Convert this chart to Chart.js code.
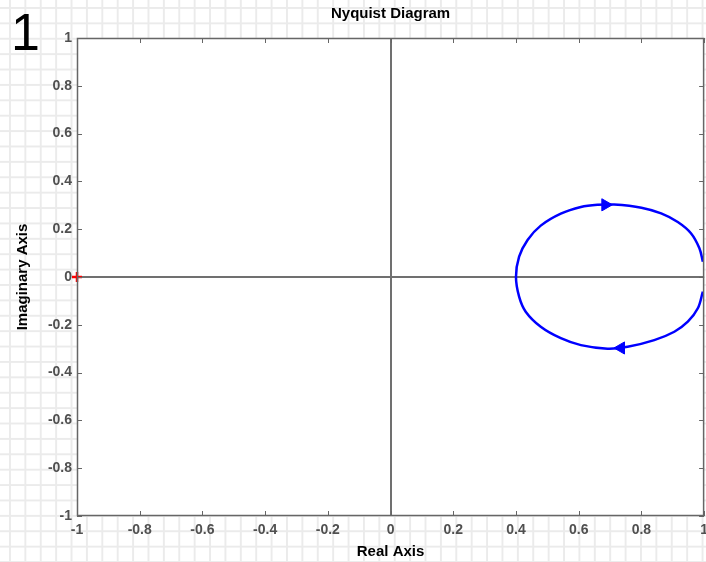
<!DOCTYPE html>
<html>
<head>
<meta charset="utf-8">
<script src="https://cdn.jsdelivr.net/npm/chart.js@4.4.1/dist/chart.umd.min.js"></script>
<style>
  html, body { margin: 0; padding: 0; }
  body {
    width: 706px; height: 562px; overflow: hidden; position: relative;
    background-color: #fff;
    background-image:
      linear-gradient(to right, #ebebeb 2px, transparent 2px),
      linear-gradient(to bottom, #ebebeb 2px, transparent 2px);
    background-size: 15.4px 15.4px;
    background-position: 9px 7px;
  }
  /* a bit wider than the window: the last tick label reserves room on the right */
  #wrap { position: absolute; left: 0; top: 0; width: 714px; height: 562px; }
  #figNum {
    position: absolute; left: 11px; top: 6px;
    font: 52px "Liberation Sans", Arial, sans-serif; line-height: 52px; color: #000;
  }
</style>
</head>
<body>
<div id="figNum">1</div>
<div id="wrap"><canvas id="nyq"></canvas></div>
<script>
// Nyquist curve (real, imaginary)
const lowerRe = [0.996, 0.98, 0.948, 0.905, 0.841, 0.756, 0.692, 0.607, 0.543, 0.479, 0.431, 0.41, 0.40];
const lowerIm = [-0.061, -0.131, -0.187, -0.229, -0.264, -0.292, -0.30, -0.285, -0.256, -0.208, -0.145, -0.082, 0.0];
const upperRe = [0.41, 0.437, 0.479, 0.543, 0.607, 0.66, 0.713, 0.80, 0.863, 0.916, 0.958, 0.985, 0.996];
const upperIm = [0.085, 0.155, 0.215, 0.265, 0.293, 0.302, 0.303, 0.29, 0.266, 0.23, 0.183, 0.12, 0.064];

// direction arrows
const arrowRe = [0.685, 0.735];
const arrowIm = [0.302, -0.297];
const arrowRot = [90, -90];

// critical point
const critRe = [-1];
const critIm = [0];

const axisMin = -1, axisMax = 1, tickStep = 0.2;

const curve = [];
lowerRe.forEach((x, i) => curve.push({ x: x, y: lowerIm[i] }));
upperRe.forEach((x, i) => curve.push({ x: x, y: upperIm[i] }));

const fontFam = '"Liberation Sans", Arial, sans-serif';

// white axes box + inside tick marks + frame
const boxPlugin = {
  id: 'box',
  beforeDraw(chart) {
    const a = chart.chartArea, c = chart.ctx;
    c.save();
    c.fillStyle = '#fff';
    c.fillRect(a.left, a.top, a.right - a.left, a.bottom - a.top);
    c.restore();
  },
  afterDatasetsDraw(chart) {
    const a = chart.chartArea, c = chart.ctx;
    const xs = chart.scales.x, ys = chart.scales.y;
    c.save();
    c.strokeStyle = '#666';
    c.lineWidth = 1;
    c.beginPath();
    xs.ticks.forEach(t => {
      const px = Math.round(xs.getPixelForValue(t.value)) + 0.5;
      c.moveTo(px, a.bottom); c.lineTo(px, a.bottom - 5);
      c.moveTo(px, a.top); c.lineTo(px, a.top + 5);
    });
    ys.ticks.forEach(t => {
      const py = Math.round(ys.getPixelForValue(t.value)) + 0.5;
      c.moveTo(a.left, py); c.lineTo(a.left + 5, py);
      c.moveTo(a.right, py); c.lineTo(a.right - 5, py);
    });
    c.stroke();
    c.lineWidth = 1.5;
    c.strokeRect(a.left + 0.5, a.top + 0.5, a.right - a.left - 1, a.bottom - a.top - 1);
    c.restore();
  }
};

const fmt = v => String(Math.round(v * 10) / 10);
const zeroLine = ctx => (Math.abs(ctx.tick.value) < 1e-9 ? '#707070' : 'rgba(0,0,0,0)');

new Chart(document.getElementById('nyq'), {
  type: 'scatter',
  data: {
    datasets: [
      {
        data: curve,
        showLine: true,
        borderColor: '#0000ff',
        borderWidth: 2.5,
        tension: 0.35,
        pointRadius: 0
      },
      {
        data: arrowRe.map((x, i) => ({ x: x, y: arrowIm[i] })),
        pointStyle: 'triangle',
        rotation: arrowRot,
        pointRadius: 7,
        backgroundColor: '#0000ff',
        borderColor: '#0000ff',
        borderWidth: 1
      },
      {
        data: critRe.map((x, i) => ({ x: x, y: critIm[i] })),
        pointStyle: 'cross',
        pointRadius: 5,
        borderColor: '#ff0000',
        borderWidth: 2.5,
        clip: false
      }
    ]
  },
  options: {
    responsive: true,
    maintainAspectRatio: false,
    animation: false,
    layout: { autoPadding: false, padding: { left: 0, right: 3, top: 0, bottom: 0 } },
    plugins: {
      legend: { display: false },
      tooltip: { enabled: false },
      title: { display: false }
    },
    scales: {
      x: {
        type: 'linear',
        min: axisMin, max: axisMax,
        ticks: {
          stepSize: tickStep,
          padding: 6,
          color: '#505050',
          font: { family: fontFam, size: 14, weight: 'bold' },
          maxRotation: 0,
          callback: fmt
        },
        grid: { drawTicks: false, color: zeroLine, lineWidth: 2 },
        border: { display: false },
        title: {
          display: true,
          text: 'Real Axis',
          color: '#000',
          font: { family: fontFam, size: 15, weight: 'bold' },
          padding: { top: 0, bottom: 1 }
        },
        afterFit(s) { s.height = 46; }
      },
      top: {
        type: 'linear',
        position: 'top',
        min: axisMin, max: axisMax,
        ticks: { display: false },
        grid: { display: false, drawTicks: false },
        border: { display: false },
        title: {
          display: true,
          text: 'Nyquist Diagram',
          color: '#000',
          font: { family: fontFam, size: 15, weight: 'bold' },
          padding: { top: 5, bottom: 0 }
        },
        afterFit(s) { s.height = 38; }
      },
      y: {
        type: 'linear',
        min: axisMin, max: axisMax,
        ticks: {
          stepSize: tickStep,
          padding: 5,
          color: '#505050',
          font: { family: fontFam, size: 14, weight: 'bold' },
          callback: fmt
        },
        grid: { drawTicks: false, color: zeroLine, lineWidth: 2 },
        border: { display: false },
        title: {
          display: true,
          text: 'Imaginary Axis',
          color: '#000',
          font: { family: fontFam, size: 15, weight: 'bold' },
          padding: { top: 13.5, bottom: 0 }
        },
        afterFit(s) { s.width = 77; }
      }
    }
  },
  plugins: [boxPlugin]
});
</script>
</body>
</html>
